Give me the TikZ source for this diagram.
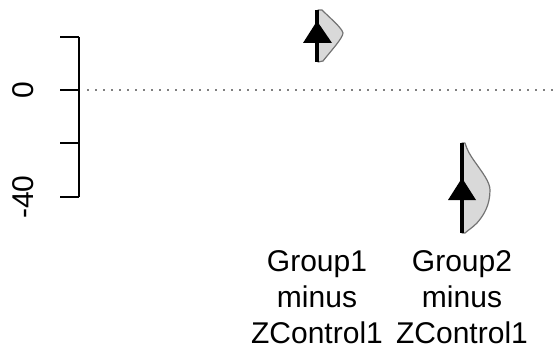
\documentclass[tikz,border=0pt]{standalone}
\usepackage{fontspec}
\setmainfont{Liberation Sans}
\begin{document}
\begin{tikzpicture}[x=1pt,y=-1pt,
  axisline/.style={line width=1.3pt,black},
  violin/.style={fill=black!15,draw=black!55,line width=1.2pt,line join=round},
  estline/.style={line width=3.8pt,black},
  esttri/.style={fill=black,draw=none},
  ticklab/.style={font=\fontsize{30}{36}\selectfont,rotate=90,anchor=base,inner sep=0pt},
  grouplab/.style={font=\fontsize{30}{36}\selectfont,align=center,anchor=north,inner sep=0pt},
  zeroline/.style={line width=1.6pt,black!50,dash pattern=on 1.6pt off 6.4pt}]
\useasboundingbox (0,0) rectangle (553,350);
% axis
\coordinate (atop) at (79,37);
\coordinate (abot) at (79,197);
\draw[axisline] (atop) -- (abot);
\coordinate (t1) at (79,37);  \coordinate (t1l) at (60,37);
\coordinate (t2) at (79,90);  \coordinate (t2l) at (60,90);
\coordinate (t3) at (79,143); \coordinate (t3l) at (60,143);
\coordinate (t4) at (79,197); \coordinate (t4l) at (60,197);
\draw[axisline] (t1) -- (t1l) (t2) -- (t2l) (t3) -- (t3l) (t4) -- (t4l);
\node[ticklab] (l0) at (33,90) {0};
\node[ticklab] (l40) at (33,197) {-40};
% zero line
\coordinate (z1) at (87,90);
\coordinate (z2) at (553,90);
\draw[zeroline] (z1) -- (z2);
% group 1
\draw[violin] (318,10) -- (322,10) .. controls (330,18) and (342,28) .. (343,33)
  .. controls (343,38) and (330,52) .. (323,61) -- (318,62) -- cycle;
\coordinate (g1t) at (317,10);
\coordinate (g1b) at (317,62);
\draw[estline] (g1t) -- (g1b);
\fill[esttri] (317,21) -- (332,43) -- (303,43) -- cycle;
% group 2
\draw[violin] (462,143) -- (465,143) .. controls (467,150) and (470,155) .. (475,162)
  .. controls (482,172) and (490,182) .. (490,190)
  .. controls (490,205) and (484,215) .. (477,223)
  .. controls (472,228) and (467,231) .. (465,233) -- (462,233) -- cycle;
\coordinate (g2t) at (462,143);
\coordinate (g2b) at (462,233);
\draw[estline] (g2t) -- (g2b);
\fill[esttri] (462,178) -- (476,200) -- (448,200) -- cycle;
% labels
\node[grouplab] (lab1) at (317,250) {Group1\\minus\\ZControl1};
\node[grouplab] (lab2) at (462,250) {Group2\\minus\\ZControl1};
\end{tikzpicture}
\end{document}
